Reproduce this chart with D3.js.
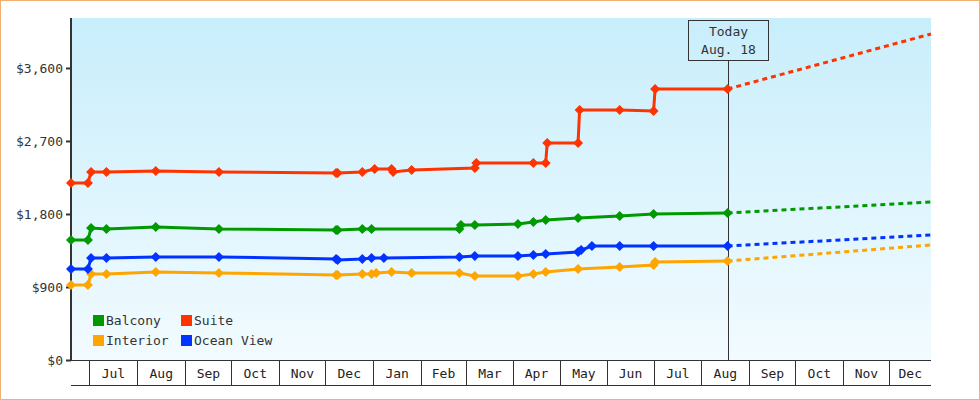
<!DOCTYPE html>
<html><head><meta charset="utf-8">
<script src="https://cdn.jsdelivr.net/npm/d3@7"></script>
<style>
body{margin:0;background:#fff}
svg{display:block;font-family:"DejaVu Sans Mono",monospace;font-size:13px}
</style></head><body>
<script>
// price history (date, price) per cabin type
const suite = [["2015-06-19",2182],["2015-06-30",2182],["2015-07-02",2318],["2015-07-12",2318],["2015-08-13",2330],["2015-09-23",2318],["2015-12-08",2305],["2015-12-09",2305],["2015-12-25",2318],["2016-01-02",2355],["2016-01-13",2355],["2016-01-14",2318],["2016-01-26",2343],["2016-03-07",2367],["2016-03-08",2429],["2016-04-14",2429],["2016-04-22",2429],["2016-04-23",2675],["2016-05-13",2675],["2016-05-14",3082],["2016-06-09",3082],["2016-07-01",3070],["2016-07-02",3341],["2016-08-18",3341]];
const balcony = [["2015-06-19",1479],["2015-06-30",1479],["2015-07-02",1627],["2015-07-12",1615],["2015-08-13",1640],["2015-09-23",1615],["2015-12-08",1603],["2015-12-09",1603],["2015-12-25",1615],["2015-12-31",1615],["2016-02-26",1615],["2016-02-27",1664],["2016-03-07",1664],["2016-04-04",1676],["2016-04-14",1701],["2016-04-22",1726],["2016-05-13",1751],["2016-06-09",1775],["2016-07-01",1800],["2016-08-18",1812]];
const ocean = [["2015-06-19",1122],["2015-06-30",1122],["2015-07-02",1257],["2015-07-12",1257],["2015-08-13",1270],["2015-09-23",1270],["2015-12-08",1245],["2015-12-09",1233],["2015-12-25",1245],["2015-12-31",1257],["2016-01-08",1257],["2016-02-26",1270],["2016-03-07",1282],["2016-04-04",1282],["2016-04-14",1294],["2016-04-22",1307],["2016-05-13",1331],["2016-05-15",1356],["2016-05-22",1405],["2016-06-09",1405],["2016-07-01",1405],["2016-08-18",1405]];
const interior = [["2015-06-19",925],["2015-06-30",925],["2015-07-02",1060],["2015-07-12",1060],["2015-08-13",1085],["2015-09-23",1073],["2015-12-08",1048],["2015-12-09",1048],["2015-12-25",1060],["2015-12-31",1060],["2016-01-03",1073],["2016-01-13",1085],["2016-01-26",1073],["2016-02-26",1073],["2016-03-07",1036],["2016-04-04",1036],["2016-04-14",1060],["2016-04-22",1085],["2016-05-13",1122],["2016-06-09",1146],["2016-07-01",1171],["2016-07-02",1208],["2016-08-18",1220]];
const forecastEnd = "2016-12-28";
const forecast = {Suite:4019, Balcony:1948, "Ocean View":1541, Interior:1418};
const seriesNames = ["Balcony","Suite","Interior","Ocean View"];
const seriesColors = {Balcony:"#009900",Suite:"#ff3300",Interior:"#ffa500","Ocean View":"#0033ff"};
const yTicks = [0,900,1800,2700,3600];
const today = "2016-08-18";

const W=980,H=400,L=71,R=931,T=18,B=360;
const parse=d3.timeParse("%Y-%m-%d");
const x=d3.scaleTime().domain([parse("2015-06-19"),parse(forecastEnd)]).range([L,R]);
const y=d3.scaleLinear().domain([0,4216]).range([B,T]);
const data={Balcony:balcony,Suite:suite,Interior:interior,"Ocean View":ocean};

const svg=d3.select("body").append("svg").attr("width",W).attr("height",H);
const g=svg.append("defs").append("linearGradient").attr("id","bg").attr("x1",0).attr("x2",0).attr("y1",0).attr("y2",1);
g.append("stop").attr("offset","0%").attr("stop-color","#c8eefb");
g.append("stop").attr("offset","100%").attr("stop-color","#f2fbff");
svg.append("rect").attr("x",0.5).attr("y",0.5).attr("width",W-1).attr("height",H-1).attr("fill","#fff").attr("stroke","#f0b070");
svg.append("rect").attr("x",L).attr("y",T).attr("width",R-L).attr("height",B-T).attr("fill","url(#bg)");

// y axis
const ya=svg.append("g").attr("transform",`translate(${L},0)`)
  .call(d3.axisLeft(y).tickValues(yTicks).tickSize(5).tickFormat(d=>"$"+d3.format(",")(d)));
ya.select(".domain").attr("stroke","#333").attr("stroke-width",2).attr("d",`M0,${T}V${B}`);
ya.selectAll(".tick line").attr("stroke","#333").attr("stroke-width",2);
ya.selectAll("text").attr("font-family","DejaVu Sans Mono").attr("font-size",13).attr("fill","#333");

// x axis month boxes
const months=d3.timeMonth.range(parse("2015-07-01"),parse(forecastEnd));
const xa=svg.append("g");
xa.append("line").attr("x1",L).attr("x2",R).attr("y1",B+0.5).attr("y2",B+0.5).attr("stroke","#333");
xa.append("line").attr("x1",L).attr("x2",R).attr("y1",385.5).attr("y2",385.5).attr("stroke","#333");
months.forEach(m=>{
  const x0=Math.round(x(m))+0.5, next=d3.timeMonth.offset(m,1);
  const x1=Math.min(x(next),R);
  xa.append("line").attr("x1",x0).attr("x2",x0).attr("y1",B).attr("y2",385).attr("stroke","#333");
  xa.append("text").attr("x",(x0+x1)/2).attr("y",378).attr("text-anchor","middle").attr("fill","#222").text(d3.timeFormat("%b")(m));
});

// today marker
const tx=Math.round(x(parse(today)))+0.5;
svg.append("line").attr("x1",tx).attr("x2",tx).attr("y1",60).attr("y2",B).attr("stroke","#333");
svg.append("rect").attr("x",tx-40).attr("y",20.5).attr("width",80).attr("height",40).attr("fill","none").attr("stroke","#333");
svg.append("text").attr("x",tx).attr("y",36).attr("text-anchor","middle").attr("fill","#333").text("Today");
svg.append("text").attr("x",tx).attr("y",54).attr("text-anchor","middle").attr("fill","#333").text("Aug. 18");

const line=d3.line().x(d=>x(parse(d[0]))).y(d=>y(d[1]));
["Interior","Ocean View","Balcony","Suite"].forEach(n=>{
  const pts=data[n], c=seriesColors[n], last=pts[pts.length-1];
  svg.append("path").attr("d",line([last,[forecastEnd,forecast[n]]])).attr("fill","none")
    .attr("stroke",c).attr("stroke-width",3).attr("stroke-dasharray","5,4");
  svg.append("path").attr("d",line(pts)).attr("fill","none").attr("stroke",c).attr("stroke-width",3);
  svg.append("g").selectAll("path").data(pts).join("path")
    .attr("transform",d=>`translate(${x(parse(d[0]))},${y(d[1])})`)
    .attr("d","M0,-5L5,0L0,5L-5,0Z").attr("fill",c);
});

// legend
const lg=svg.append("g");
seriesNames.forEach((n,i)=>{
  const lx=93+(i%2)*88, ly=315+Math.floor(i/2)*20;
  lg.append("rect").attr("x",lx).attr("y",ly).attr("width",11).attr("height",11).attr("fill",seriesColors[n]);
  lg.append("text").attr("x",lx+13).attr("y",ly+10).attr("fill","#333").text(n);
});
</script></body></html>
